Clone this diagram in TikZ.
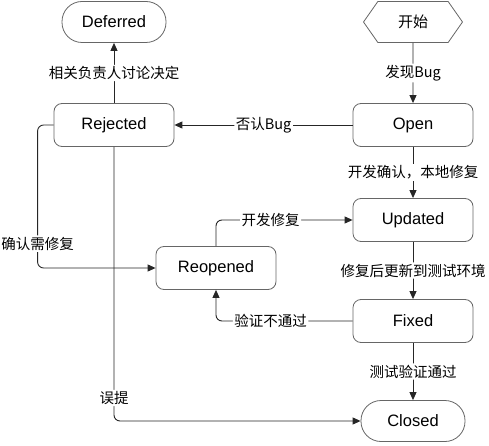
\documentclass[tikz,border=0pt]{standalone}
\usepackage{fontspec}
\setmainfont{Liberation Sans}
\newfontfamily\cjk{Noto Sans CJK SC}
\usetikzlibrary{arrows.meta,shapes.symbols}

\begin{document}
\begin{tikzpicture}
      [x = 1pt, y = -1pt,
      state/.style= {
         draw = black!60,
         line width = 0.8pt,
         rounded corners = 8pt,
         minimum width = 120pt,
         minimum height = 43pt,
         font = \fontsize{16.5}{18}\selectfont
      },
      terminal/.style= {
         draw = black!60,
         line width = 0.8pt,
         rounded corners = 20pt,
         minimum width = 104pt,
         minimum height = 41pt,
         font = \fontsize{16.5}{18}\selectfont
      },
      begin/.style= {
         draw = black!60,
         line width = 0.8pt,
         signal,
         signal to = west and east,
         signal pointer angle = 110,
         minimum width = 99pt,
         minimum height = 41pt,
         font = \cjk\fontsize{15}{18}\selectfont
      },
      edge/.style= {-{Triangle[length = 8pt, width = 7pt]}, draw = black!85, line width = 0.9pt, rounded corners = 6pt},
      lbl/.style= {fill = white, inner sep = 1.5pt, font = \cjk\fontsize{14.5}{16}\selectfont}]

      \useasboundingbox (0, 0) rectangle (489, 446);

      \node[begin] (start) at (413, 22) {开始};
      \node[terminal] (deferred) at (114, 22) {Deferred};
      \node[state] (open) at (413, 125) {Open};
      \node[state] (rejected) at (114, 125) {Rejected};
      \node[state] (updated) at (413, 220) {Updated};
      \node[state] (reopened) at (216, 268) {Reopened};
      \node[state] (fixed) at (413, 321) {Fixed};
      \node[terminal] (closed) at (413, 421) {Closed};

      % main flow
      \draw[edge] (start) -- node[lbl] {发现Bug} (open);
      \draw[edge] (open) -- node[lbl] {否认Bug} (rejected);
      \draw[edge] (rejected) -- node[lbl] {相关负责人讨论决定} (deferred);
      \draw[edge] (open) -- node[lbl] {开发确认，本地修复} (updated);
      \draw[edge] (updated) -- node[lbl] {修复后更新到测试环境} (fixed);
      \draw[edge] (fixed) -- node[lbl] {测试验证通过} (closed);

      % loops back
      \draw[edge] (reopened.north) |- node[lbl, pos = 0.7] {开发修复} (updated.west);
      \draw[edge] (fixed.west) -| node[lbl, pos = 0.3] {验证不通过} (reopened.south);
      \draw[edge] (rejected.west) -- ++(-16, 0) |- node[lbl, pos = 0.415] {确认需修复} (reopened.west);
      \draw[edge] (rejected) |- node[lbl, pos = 0.458] {误提} (closed);

   \end{tikzpicture}
\end{document}
